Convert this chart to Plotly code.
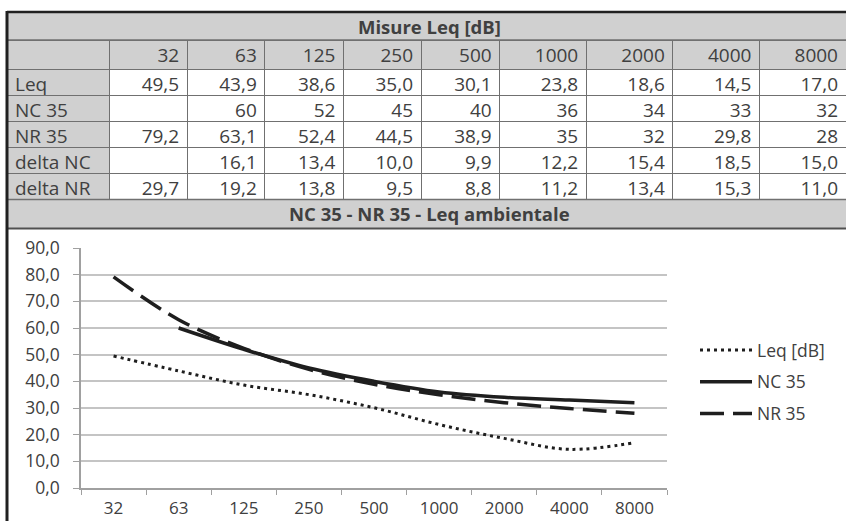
import plotly.graph_objects as go

# ---- data ----
freqs = ["32", "63", "125", "250", "500", "1000", "2000", "4000", "8000"]
leq = [49.5, 43.9, 38.6, 35.0, 30.1, 23.8, 18.6, 14.5, 17.0]
nc35 = [None, 60, 52, 45, 40, 36, 34, 33, 32]
nr35 = [79.2, 63.1, 52.4, 44.5, 38.9, 35, 32, 29.8, 28]
delta_nc = [None, 16.1, 13.4, 10.0, 9.9, 12.2, 15.4, 18.5, 15.0]
delta_nr = [29.7, 19.2, 13.8, 9.5, 8.8, 11.2, 13.4, 15.3, 11.0]
row_labels = ["Leq", "NC 35", "NR 35", "delta NC", "delta NR"]
table_title = "Misure Leq [dB]"
chart_title = "NC 35 - NR 35 - Leq ambientale"
y_ticks = [0, 10, 20, 30, 40, 50, 60, 70, 80, 90]

W, H = 846, 521
FONT = "Open Sans"
TXT = "#404040"
GRAY = "#d0d0d0"
LINE = "#707070"
INK = "#1e1e1e"


def px_x(x):
    return x / W


def px_y(y):
    return 1 - y / H


def f1(v):
    return "" if v is None else f"{v:.1f}".replace(".", ",")


def fg(v):
    if v is None:
        return ""
    if float(v).is_integer():
        return str(int(v))
    return f"{v}".replace(".", ",")


fmt_rows = [
    [f1(v) for v in leq],
    [fg(v) for v in nc35],
    [fg(v) for v in nr35],
    [f1(v) for v in delta_nc],
    [f1(v) for v in delta_nr],
]
columns = [row_labels] + [[r[i] for r in fmt_rows] for i in range(len(freqs))]

fig = go.Figure()

fig.add_trace(go.Table(
    domain=dict(x=[px_x(7), 1], y=[px_y(200), px_y(40)]),
    columnwidth=[103, 78, 78, 79, 78, 79, 87, 87, 87, 87],
    header=dict(
        values=[""] + freqs,
        fill_color=GRAY,
        line=dict(color=LINE, width=1),
        align=["left"] + ["right"] * len(freqs),
        font=dict(family=FONT, size=19, color=TXT),
        height=29,
    ),
    cells=dict(
        values=columns,
        fill_color=[[GRAY] * 5] + [["white"] * 5] * len(freqs),
        line=dict(color=LINE, width=1),
        align=["left"] + ["right"] * len(freqs),
        font=dict(family=FONT, size=19, color=TXT),
        height=26,
    ),
))

styles = [
    ("Leq [dB]", leq, dict(color=INK, width=3, dash="3px,4px")),
    ("NC 35", nc35, dict(color=INK, width=3.5, dash="solid")),
    ("NR 35", nr35, dict(color=INK, width=3.5, dash="24px,9px")),
]
for i, (name, vals, ln) in enumerate(styles):
    fig.add_trace(go.Scatter(
        x=freqs, y=vals, name=name, mode="lines",
        line=dict(shape="spline", smoothing=1.0, **ln),
        legendgroup=f"g{i}",
    ))

shapes = [
    # title bars
    dict(type="rect", xref="paper", yref="paper", x0=px_x(7), x1=1.01,
         y0=px_y(40), y1=px_y(12), fillcolor=GRAY, line=dict(width=0), layer="below"),
    dict(type="rect", xref="paper", yref="paper", x0=px_x(7), x1=1.01,
         y0=px_y(228), y1=px_y(199), fillcolor=GRAY, line=dict(width=0), layer="below"),
    dict(type="line", xref="paper", yref="paper", x0=px_x(7), x1=1.01,
         y0=px_y(40), y1=px_y(40), line=dict(color=LINE, width=1.5)),
    dict(type="line", xref="paper", yref="paper", x0=px_x(7), x1=1.01,
         y0=px_y(199.5), y1=px_y(199.5), line=dict(color=LINE, width=1.5)),
    dict(type="line", xref="paper", yref="paper", x0=px_x(7), x1=1.01,
         y0=px_y(228.5), y1=px_y(228.5), line=dict(color="#505050", width=2)),
    # outer border
    dict(type="line", xref="paper", yref="paper", x0=px_x(7), x1=1.01,
         y0=px_y(12), y1=px_y(12), line=dict(color="#202020", width=2.5)),
    dict(type="line", xref="paper", yref="paper", x0=px_x(7), x1=px_x(7),
         y0=px_y(11), y1=-0.01, line=dict(color="#202020", width=3)),
]

annotations = [
    dict(text=f"<b>{table_title}</b>", xref="paper", yref="paper",
         x=px_x(429), y=px_y(26), showarrow=False,
         font=dict(family=FONT, size=18.5, color=TXT), xanchor="center", yanchor="middle"),
    dict(text=f"<b>{chart_title}</b>", xref="paper", yref="paper",
         x=px_x(430), y=px_y(213), showarrow=False,
         font=dict(family=FONT, size=18.5, color=TXT), xanchor="center", yanchor="middle"),
]

fig.update_layout(
    width=W, height=H,
    margin=dict(l=0, r=0, t=0, b=0, autoexpand=False),
    paper_bgcolor="white", plot_bgcolor="white",
    separators=",.",
    font=dict(family=FONT, size=17, color=TXT),
    shapes=shapes,
    annotations=annotations,
    showlegend=True,
    legend=dict(
        x=px_x(695), y=px_y(332), xanchor="left", yanchor="top",
        font=dict(family=FONT, size=17.5, color=TXT),
        tracegroupgap=6, itemwidth=52, bgcolor="rgba(0,0,0,0)",
    ),
    xaxis=dict(
        domain=[px_x(81), px_x(667)],
        type="category",
        range=[-0.5, len(freqs) - 0.5],
        tickson="boundaries",
        ticks="outside", ticklen=5, tickcolor="#a0a0a0",
        showline=True, linecolor="#a0a0a0", linewidth=1.5,
        showgrid=False,
        automargin=False,
        tickfont=dict(family=FONT, size=17, color=TXT),
        ticklabelstandoff=4,
    ),
    yaxis=dict(
        domain=[px_y(488), px_y(248)],
        range=[0, 90],
        tickvals=y_ticks,
        tickformat=".1f",
        ticks="outside", ticklen=6, tickcolor="#a0a0a0",
        showline=True, linecolor="#a0a0a0", linewidth=1.5,
        showgrid=True, gridcolor="#c4c4c4", gridwidth=1.5,
        zeroline=False,
        automargin=False,
        tickfont=dict(family=FONT, size=17.5, color=TXT),
        ticklabelstandoff=10,
    ),
)

fig.write_html("out.html", config={"displayModeBar": False},
               post_script="document.body.style.margin='0';")
